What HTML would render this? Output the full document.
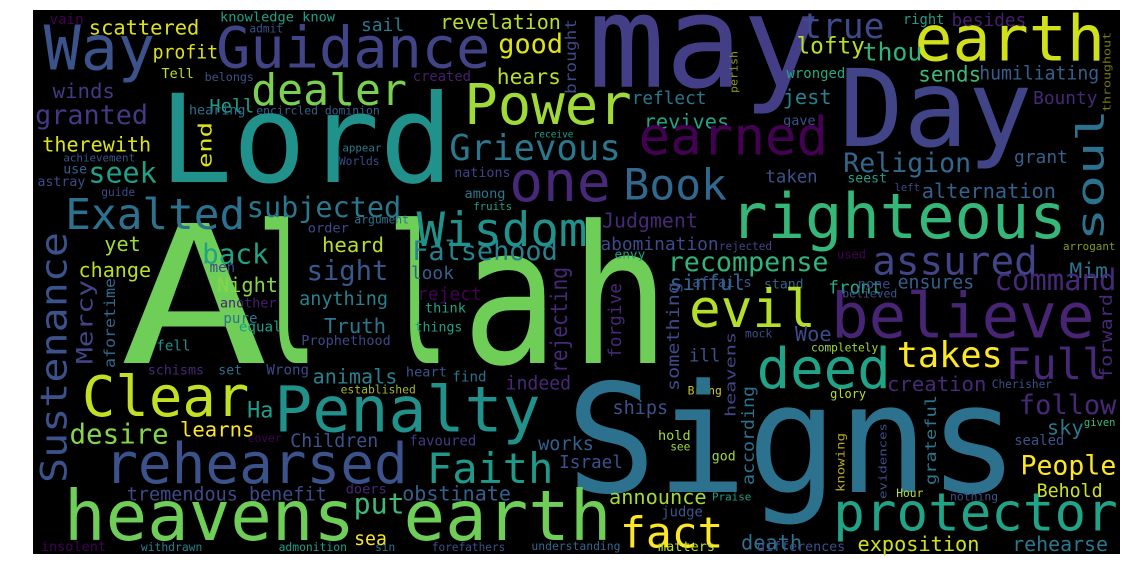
<!DOCTYPE html>
<html><head><meta charset="utf-8"><style>
html,body{margin:0;padding:0;background:#fff;width:1131px;height:578px;overflow:hidden}
svg{display:block}
text{font-family:"DejaVu Sans Mono","Liberation Mono",monospace}
</style></head><body>
<svg id="cloud" width="1131" height="578" viewBox="0 0 1131 578" xmlns="http://www.w3.org/2000/svg">
<rect x="33" y="10" width="1087" height="544" fill="#000"/>
<g id="words"></g>
</svg>
<script>
// region offsets: [offsetX, offsetY, scale]
const regions = [[33,5,2.904],[570,5,2.877],[33,280,2.904],[570,280,2.877],[0,0,1]];
// horizontal words: text, region, x1, x2, baseline, color
const hWords = [
["vain",0,50,145,55,"#440154"],["scattered",0,165,480,85,"#dde318"],["knowledge know",0,545,875,48,"#1fa088"],
["admit",0,630,725,80,"#3b528b"],["sail",0,955,1075,75,"#2a788e"],["revelation",0,1185,1530,70,"#b5de2b"],
["Way",0,40,345,188,"#3b528b"],["Guidance",0,540,1320,182,"#414487"],["good",0,1355,1535,140,"#dde318"],
["profit",0,350,535,155,"#dde318"],["Tell",0,375,465,212,"#c2df23"],["belongs",0,500,640,220,"#3b528b"],
["created",0,1105,1270,220,"#481f70"],["hears",0,1350,1530,230,"#b8de29"],["dealer",0,640,1080,290,"#7ad151"],
["winds",0,60,235,270,"#443983"],["granted",0,10,330,345,"#443983"],["Hell",0,515,640,312,"#1f9e89"],
["hearing",0,455,615,318,"#2c728e"],["encircled dominion",0,650,1005,318,"#35608d"],["Lord",4,165,447,182,"#21918c"],
["therewith",0,30,340,425,"#dde318"],["receive",0,1455,1568,385,"#1f9e89"],["achievement",0,90,295,455,"#3b528b"],
["appear",0,900,1010,425,"#2a788e"],["Worlds",0,890,1005,465,"#3e4a89"],["seek",0,165,355,515,"#1fa088"],
["use",0,90,155,490,"#35608d"],["astray",0,15,150,525,"#3e4a89"],["nations",0,1225,1385,500,"#414487"],
["guide",0,200,295,555,"#3e4a89"],["Exalted",0,100,610,650,"#2c728e"],["subjected",0,625,1065,615,"#2a788e"],
["among",0,1255,1370,560,"#2a788e"],["fruits",0,1280,1390,595,"#1f9e89"],["argument",0,935,1090,635,"#2c728e"],
["order",0,800,915,660,"#3e4a89"],["yet",0,210,310,715,"#a0da39"],["back",0,495,680,750,"#20a386"],
["heard",4,323,383,252,"#b8de29"],["Falsehood",0,1105,1520,740,"#26828e"],["change",0,135,340,790,"#b8de29"],
["men",0,515,585,775,"#3e4a89"],["look",0,1100,1220,795,"#35608d"],["sight",4,308,387,280,"#38588c"],
["may",1,70,700,235,"#433e85"],["true",1,670,900,95,"#3e4a89"],["earth",1,1000,1530,160,"#d0e11c"],
["right",1,960,1075,55,"#1f9e89"],["besides",1,1100,1310,60,"#481f70"],["lofty",1,655,845,140,"#b8de29"],
["thou",1,845,1010,160,"#2fb47c"],["wronged",1,625,790,210,"#22a884"],["sends",1,1005,1180,220,"#3bbb75"],
["humiliating",1,1180,1520,215,"#35608d"],["reflect",1,180,390,285,"#2a788e"],["jest",1,615,750,285,"#26828e"],
["Bounty",1,1335,1515,285,"#482878"],["Day",1,790,1315,405,"#414487"],["revives",1,215,455,355,"#20a386"],
["gave",1,615,705,345,"#3b528b"],["earned",1,205,735,430,"#440154"],["Religion",1,790,1150,480,"#31688e"],
["grant",1,1280,1430,455,"#35608d"],["Book",1,160,445,560,"#31688e"],["taken",1,565,710,510,"#3b528b"],
["seest",1,800,910,510,"#1fa088"],["left",1,935,1005,535,"#3e4a89"],["alternation",1,1015,1395,555,"#35608d"],
["Judgment",1,95,365,640,"#482878"],["righteous",1,470,1420,670,"#35b779"],["abomination",1,90,425,705,"#3e4a89"],
["rejected",1,430,580,705,"#414487"],["arrogant",1,1420,1568,705,"#8a9a1a"],["envy",1,130,215,730,"#1f9e89"],
["used",1,770,850,730,"#440154"],["recompense",1,285,740,765,"#2fb47c"],["assured",1,875,1340,775,"#414487"],
["Mim",1,1440,1545,785,"#2c728e"],["sinful",1,290,500,820,"#31688e"],["stand",1,560,670,815,"#31688e"],
["front",1,745,895,830,"#22a884"],["ensures",1,945,1160,815,"#35608d"],
["Night",4,218,277,292,"#86d549"],["anything",4,300,387,305,"#26828e"],["reject",4,418,481,300,"#440154"],
["another",2,545,705,80,"#481f70"],["think",2,1140,1255,95,"#20a386"],["pure",2,555,650,125,"#2c728e"],
["equal",2,600,720,150,"#1fa088"],["Truth",4,325,385,333,"#2a788e"],["things",2,1110,1245,150,"#1fa088"],
["Prophethood",4,302,390,345,"#3e4a89"],["fell",2,360,455,205,"#21918c"],["schisms",2,335,495,275,"#482878"],
["set",2,540,605,275,"#2c728e"],["Wrong",2,680,800,275,"#3e4a89"],["animals",2,815,1055,300,"#26828e"],
["heart",2,1085,1200,280,"#3b528b"],["find",2,1220,1315,295,"#2c728e"],["indeed",2,1375,1560,318,"#482878"],
["established",2,895,1110,330,"#a8b820"],["Clear",2,150,620,395,"#c2df23"],["Penalty",2,710,1465,440,"#21918c"],
["Ha",2,625,695,400,"#1f9e89"],["desire",2,110,390,475,"#86d549"],["learns",2,430,640,455,"#fde725"],
["cover",2,625,720,470,"#440154"],["Children",2,750,1000,485,"#3b528b"],["favoured",2,1095,1285,480,"#443983"],
["rehearsed",2,215,1080,590,"#3b528b"],["Faith",2,1150,1505,590,"#1f9a8a"],["tremendous benefit",2,275,850,640,"#3e4a89"],
["doers",2,910,1025,620,"#482878"],["obstinate",2,1075,1385,640,"#35608d"],["put",2,935,1075,678,"#3bbb75"],
["heavens",2,100,925,755,"#6ece58"],["sea",2,935,1025,770,"#fde725"],["insolent",2,25,210,805,"#440154"],
["withdrawn",2,315,490,805,"#26828e"],["admonition",2,715,910,805,"#1f9e89"],["sin",2,995,1050,800,"#2c728e"],
["forefathers",2,1160,1370,808,"#3b528b"],
["evil",3,350,700,135,"#b5de2b"],["believe",3,760,1500,165,"#482475"],["none",3,830,920,25,"#3e4a89"],
["believed",3,785,940,50,"#3b528b"],["Woe",3,650,750,175,"#3e4a89"],["mock",3,505,580,165,"#3b528b"],
["ill",3,345,430,235,"#3b528b"],["completely",3,695,885,205,"#a0da39"],["deed",3,545,915,310,"#20a386"],
["takes",3,945,1240,250,"#fde725"],["Full",3,1260,1540,285,"#482878"],["creation",3,915,1195,320,"#482878"],
["Bring",3,340,435,330,"#c8c820"],["Cherisher",3,1215,1385,310,"#3b528b"],["glory",3,750,850,340,"#b8de29"],
["ships",3,125,280,385,"#3b528b"],["follow",3,1295,1568,385,"#482878"],["sky",3,1375,1475,445,"#2a788e"],
["given",3,1480,1568,420,"#3bbb75"],["hold",3,255,345,460,"#a0da39"],["see",3,290,345,490,"#a0da39"],
["sealed",3,1280,1420,475,"#3b528b"],["god",3,410,475,520,"#a0da39"],["Signs",3,10,1270,610,"#2c728e"],
["People",3,1300,1568,560,"#fde725"],["announce",3,115,390,645,"#a0da39"],["Praise",3,410,520,635,"#1f9e89"],
["Hour",3,940,1015,625,"#b8de29"],["nothing",3,1095,1230,635,"#3b528b"],["Behold",3,1345,1530,625,"#d0e11c"],
["judge",3,265,380,680,"#3b528b"],["protector",3,765,1568,720,"#20a386"],["fact",3,150,435,770,"#fde725"],
["death",3,495,665,775,"#2c728e"],["exposition",3,830,1175,785,"#d0e11c"],["rehearse",3,1275,1545,800,"#2a788e"],
["matters",3,255,415,805,"#b8de29"],["differences",3,540,790,805,"#3b528b"],
["Power",4,467,629,124,"#a0da39"],["Grievous",4,451,619,160,"#2a788e"],["one",4,512,608,201,"#482878"],
["Wisdom",4,419,585,246,"#21918c"],["works",4,539,593,450,"#35608d"],
["Israel",4,560,622,468,"#3b528b"],["earth",4,407,608,540,"#6ece58"],["understanding",4,532,620,550,"#31688e"],
["command",4,996,1115,290,"#482878"],["affairs",4,693,751,287,"#3b528b"]
];
// the largest word, letter by letter: glyph, ink centre x, ink width
const allahLetters = [["A",194,150],["l",287,60],["l",418,60],["a",510,96],["h",620,100]];
const allahBaseline = 363, allahSize = 192, allahColor = "#6ece58";
// vertical words (reading bottom to top): text, x1, x2, yTop, yBottom, color
const vWords = [
["Sustenance",40,71,232,483,"#3b528b"],["Mercy",76,95,280,364,"#414487"],["aforetime",104,117,278,368,"#31688e"],
["rejecting",550,570,267,373,"#482878"],["end",198,214,122,168,"#dde318"],["brought",565,578,19,94,"#3e4a89"],
["perish",730,739,51,93,"#8a9a1a"],["throughout",1103,1112,32,112,"#7a7a10"],["soul",1076,1108,109,241,"#2c728e"],
["forgive",608,623,283,358,"#482878"],["something",667,681,282,391,"#3e4a89"],["forward",1100,1114,294,379,"#482878"],
["heavens",725,737,332,417,"#414487"],["according",742,756,386,485,"#2c728e"],["grateful",925,938,395,485,"#2a788e"],
["evidences",879,888,423,499,"#3b528b"],["knowing",836,846,433,492,"#b8a820"]
];
const NS = "http://www.w3.org/2000/svg";
const g = document.getElementById("words");
function slug(s){return s.toLowerCase().replace(/[^a-z0-9]+/g,"-");}
allahLetters.forEach((L, i) => {
  const t = document.createElementNS(NS, "text");
  t.setAttribute("x", (L[1] - L[2]/2).toFixed(1));
  t.setAttribute("y", allahBaseline);
  t.setAttribute("font-size", allahSize);
  t.setAttribute("textLength", L[2]);
  t.setAttribute("lengthAdjust", "spacingAndGlyphs");
  t.setAttribute("fill", allahColor);
  t.textContent = L[0];
  
  
  g.appendChild(t);
});
hWords.forEach(w => {
  const r = regions[w[1]];
  const x1 = r[0] + w[2]/r[2], x2 = r[0] + w[3]/r[2];
  const y = Math.min(551, r[1] + w[4]/r[2]);
  const wd = x2 - x1, n = w[0].length;
  const fs = wd / (n*0.6 - 0.1);
  const t = document.createElementNS(NS, "text");
  t.setAttribute("x", (x1 - 0.05*fs).toFixed(1));
  t.setAttribute("y", y.toFixed(1));
  t.setAttribute("font-size", fs.toFixed(1));
  t.setAttribute("textLength", (wd + 0.1*fs).toFixed(1));
  t.setAttribute("lengthAdjust", "spacingAndGlyphs");
  t.setAttribute("fill", w[5]);
  t.textContent = w[0];
  
  
  g.appendChild(t);
});
vWords.forEach(w => {
  const ext = w[2] - w[1], len = w[4] - w[3];
  const fs = ext / 0.85;
  const bx = w[2] - 0.12*fs, by = w[4];
  const t = document.createElementNS(NS, "text");
  t.setAttribute("x", "0");
  t.setAttribute("y", "0");
  t.setAttribute("transform", "translate(" + bx.toFixed(1) + "," + by.toFixed(1) + ") rotate(-90)");
  t.setAttribute("font-size", fs.toFixed(1));
  t.setAttribute("textLength", len.toFixed(1));
  t.setAttribute("lengthAdjust", "spacingAndGlyphs");
  t.setAttribute("fill", w[5]);
  t.textContent = w[0];
  
  
  g.appendChild(t);
});
</script>
</body></html>
